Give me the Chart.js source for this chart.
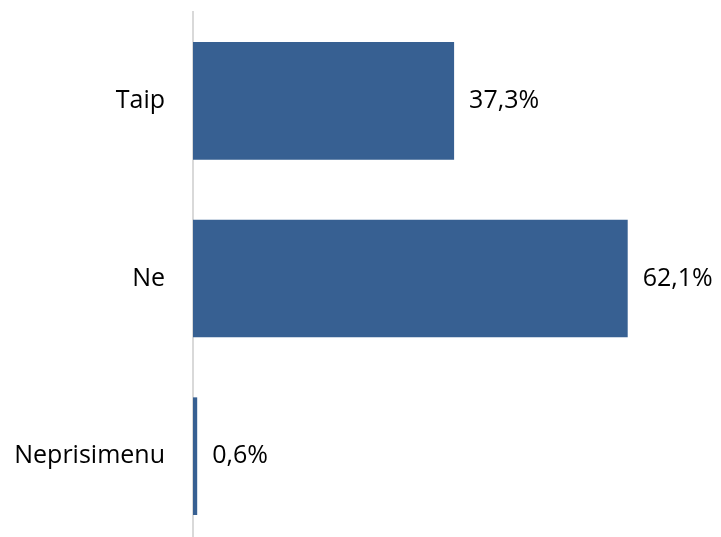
<!DOCTYPE html>
<html>
<head>
<meta charset="utf-8">
<script src="https://cdn.jsdelivr.net/npm/chart.js@4/dist/chart.umd.min.js"></script>
<style>
  html, body { margin: 0; padding: 0; background: #fff; overflow: hidden; }
  #wrap { width: 721px; height: 545px; position: relative; }
</style>
</head>
<body>
<div id="wrap"><canvas id="answerChart"></canvas></div>
<script>
// Data
const categories = ['Taip', 'Ne', 'Neprisimenu'];
const shares = [37.3, 62.1, 0.6];

// Value labels to the right of each bar
const valueLabels = {
    id: 'valueLabels',
    afterDatasetsDraw(chart) {
        const ctx = chart.ctx;
        const meta = chart.getDatasetMeta(0);
        ctx.save();
        ctx.font = '25px "Open Sans"';
        ctx.fillStyle = '#000';
        ctx.textAlign = 'left';
        ctx.textBaseline = 'middle';
        meta.data.forEach((bar, i) => {
            const txt = shares[i].toFixed(1).replace('.', ',') + '%';
            ctx.fillText(txt, bar.x + 15, bar.y);
        });
        ctx.restore();
    }
};

Chart.defaults.font.family = '"Open Sans"';
Chart.defaults.color = '#000';

const answerCtx = document.getElementById('answerChart').getContext('2d');
const answerChart = new Chart(answerCtx, {
    type: 'bar',
    data: {
        labels: categories,
        datasets: [{
            data: shares,
            backgroundColor: '#376092',
            borderWidth: 0,
            barPercentage: 0.662,
            categoryPercentage: 1
        }]
    },
    options: {
        indexAxis: 'y',
        responsive: true,
        maintainAspectRatio: false,
        animation: false,
        layout: {
            padding: { top: 12, right: 3, left: 0, bottom: 0 }
        },
        plugins: {
            legend: { display: false },
            tooltip: { enabled: false }
        },
        scales: {
            x: {
                display: false,
                min: 0,
                max: 75
            },
            y: {
                afterFit: function(scale) {
                    scale.width = 193;
                    scale.paddingTop = 0;
                    scale.paddingBottom = 0;
                },
                grid: {
                    display: true,
                    drawOnChartArea: false,
                    drawTicks: true,
                    tickLength: 28,
                    color: 'rgba(0,0,0,0)'
                },
                border: {
                    display: true,
                    color: '#d9d9d9',
                    width: 2
                },
                ticks: {
                    padding: 0,
                    font: { size: 25 }
                }
            }
        }
    },
    plugins: [valueLabels]
});
</script>
</body>
</html>
